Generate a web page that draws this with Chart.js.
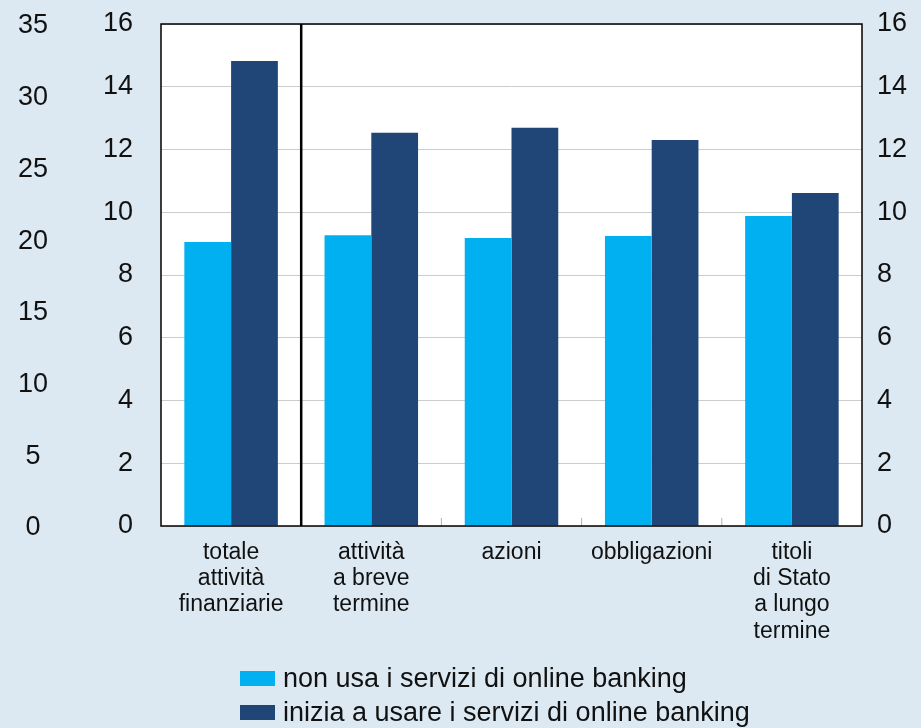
<!DOCTYPE html>
<html>
<head>
<meta charset="utf-8">
<script src="https://cdn.jsdelivr.net/npm/chart.js@4.4.1/dist/chart.umd.min.js"></script>
<style>
  html, body { margin: 0; padding: 0; background: #dce9f2; }
  #wrap { position: relative; width: 921px; height: 728px; }
  #legend { position: absolute; left: 240px; top: 661px; font-family: "Liberation Sans", Arial, sans-serif; font-size: 27px; color: #111; }
  #legend .item { display: flex; align-items: center; height: 34px; }
  #legend .box { width: 35px; height: 15px; margin-right: 8px; }
</style>
</head>
<body>
<div id="wrap">
  <canvas id="chart" width="921" height="728"></canvas>
  <div id="legend"></div>
</div>
<script>
        // Data
        const categories = [
            ['totale', 'attività', 'finanziarie'],
            ['attività', 'a breve', 'termine'],
            ['azioni'],
            ['obbligazioni'],
            ['titoli', 'di Stato', 'a lungo', 'termine']
        ];
        const nonUsa = [9.05, 9.27, 9.18, 9.24, 9.88];
        const iniziaUsare = [14.82, 12.53, 12.69, 12.30, 10.61];
        const seriesLabels = ['non usa i servizi di online banking', 'inizia a usare i servizi di online banking'];
        const seriesColors = ['#00b0f0', '#1f4677'];

        const fontName = '"Liberation Sans", Arial, sans-serif';

        // fixed axis sizes so the plot box sits where it does in the original
        function fixWidth(w) {
            return scale => {
                scale.width = w;
                scale.paddingTop = 0;
                scale.paddingBottom = 0;
            };
        }

        // Plot frame, separator after the first group, small ticks between groups
        const framePlugin = {
            id: 'frame',
            beforeDraw(chart) {
                const { ctx, chartArea: a } = chart;
                ctx.save();
                ctx.fillStyle = '#ffffff';
                ctx.fillRect(a.left, a.top, a.right - a.left, a.bottom - a.top);
                ctx.restore();
            },
            afterDatasetsDraw(chart) {
                const { ctx, chartArea: a, scales } = chart;
                const x = scales.x;
                ctx.save();
                // boundary ticks
                ctx.strokeStyle = '#b0b0b0';
                ctx.lineWidth = 1;
                for (let i = 0; i < categories.length - 1; i++) {
                    const bx = (x.getPixelForValue(i) + x.getPixelForValue(i + 1)) / 2;
                    ctx.beginPath();
                    ctx.moveTo(bx, a.bottom);
                    ctx.lineTo(bx, a.bottom - 8);
                    ctx.stroke();
                }
                // separator
                const sx = (x.getPixelForValue(0) + x.getPixelForValue(1)) / 2;
                ctx.strokeStyle = '#000000';
                ctx.lineWidth = 2.5;
                ctx.beginPath();
                ctx.moveTo(sx, a.top);
                ctx.lineTo(sx, a.bottom);
                ctx.stroke();
                // frame
                ctx.lineWidth = 1.5;
                ctx.strokeRect(a.left, a.top, a.right - a.left, a.bottom - a.top);
                ctx.restore();
            }
        };

        const ctx = document.getElementById('chart').getContext('2d');
        const chart = new Chart(ctx, {
            type: 'bar',
            data: {
                labels: categories,
                datasets: [
                    {
                        label: seriesLabels[0],
                        data: nonUsa,
                        backgroundColor: seriesColors[0],
                        yAxisID: 'y'
                    },
                    {
                        label: seriesLabels[1],
                        data: iniziaUsare,
                        backgroundColor: seriesColors[1],
                        yAxisID: 'y'
                    }
                ]
            },
            options: {
                responsive: false,
                animation: false,
                barPercentage: 1.0,
                categoryPercentage: 0.667,
                layout: { padding: { top: 24, left: 0, right: 0, bottom: 0 } },
                scales: {
                    x: {
                        grid: { display: false },
                        border: { display: false },
                        ticks: {
                            color: '#111',
                            font: { family: fontName, size: 23, lineHeight: 1.15 },
                            padding: 5,
                            maxRotation: 0,
                            autoSkip: false
                        },
                        afterFit(scale) {
                            scale.height = 202;
                            scale.paddingLeft = 0;
                            scale.paddingRight = 0;
                        }
                    },
                    yOut: {
                        position: 'left',
                        weight: 1,
                        min: 0,
                        max: 35,
                        grid: { display: false },
                        border: { display: false },
                        ticks: {
                            stepSize: 5,
                            color: '#111',
                            font: { family: fontName, size: 27 },
                            crossAlign: 'center',
                            padding: 9,
                            labelOffset: 2
                        },
                        afterFit: fixWidth(65)
                    },
                    y: {
                        position: 'left',
                        weight: 0,
                        min: 0,
                        max: 16,
                        grid: { color: '#cccccc', lineWidth: 1, drawTicks: false },
                        border: { display: false },
                        ticks: {
                            stepSize: 2,
                            color: '#111',
                            font: { family: fontName, size: 27 },
                            padding: 28
                        },
                        afterFit: fixWidth(96)
                    },
                    yR: {
                        position: 'right',
                        min: 0,
                        max: 16,
                        grid: { display: false },
                        border: { display: false },
                        ticks: {
                            stepSize: 2,
                            color: '#111',
                            font: { family: fontName, size: 27 },
                            padding: 7
                        },
                        afterFit: fixWidth(59)
                    }
                },
                plugins: {
                    legend: { display: false },
                    tooltip: { enabled: false }
                }
            },
            plugins: [framePlugin]
        });

        // Legend as stacked, left-aligned rows
        const legendEl = document.getElementById('legend');
        chart.data.datasets.forEach(ds => {
            const item = document.createElement('div');
            item.className = 'item';
            const box = document.createElement('span');
            box.className = 'box';
            box.style.background = ds.backgroundColor;
            const text = document.createElement('span');
            text.textContent = ds.label;
            item.appendChild(box);
            item.appendChild(text);
            legendEl.appendChild(item);
        });
</script>
</body>
</html>
